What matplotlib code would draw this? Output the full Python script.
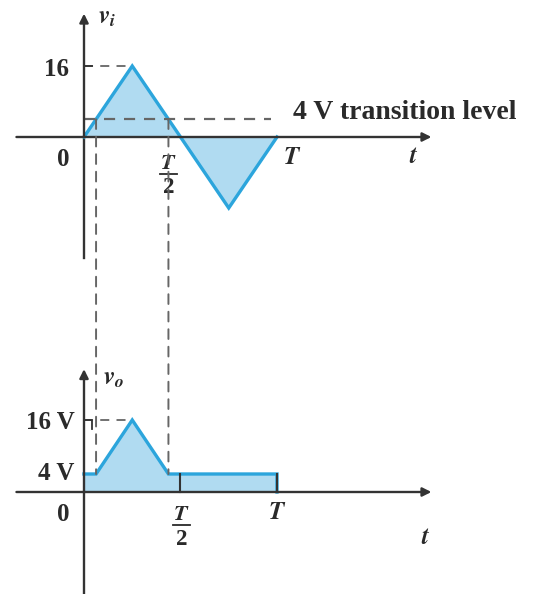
import matplotlib
matplotlib.use('Agg')
import matplotlib.pyplot as plt
from matplotlib.patches import ConnectionPatch

plt.rcParams['font.family'] = 'Liberation Serif'
plt.rcParams['font.weight'] = 'bold'
plt.rcParams['mathtext.fontset'] = 'stix'

# input triangle wave (t in units of T, volts)
t_in = [0, 0.25, 0.75, 1.0]
v_in = [0, 16, -16, 0]
# clipped output
t_out = [0, 0.0625, 0.25, 0.4375, 1.0, 1.0]
v_out = [4, 4, 16, 4, 4, 0]
v_peak = 16
v_level = 4
t_cross = [0.0625, 0.4375]

blue = '#2ca5dc'
fill = '#b0dbf1'
axc = '#333333'
dashc = '#666666'
txtc = '#2a2a2a'
fs = 18

W, H = 542, 594
fig = plt.figure(figsize=(W / 100, H / 100), dpi=100)

# pixel layout: x0 origin, px per T, y0 origin, px per volt
x0, pxT = 84, 193


def make_ax(ytop, ybot, y0, pxv):
    ax = fig.add_axes([0, 1 - ybot / H, 1, (ybot - ytop) / H])
    ax.set_xlim(-x0 / pxT, (W - x0) / pxT)
    ax.set_ylim((y0 - ybot) / pxv, (y0 - ytop) / pxv)
    ax.axis('off')
    return ax


def arrow(ax, x1, y1, x2, y2):
    ax.annotate('', xy=(x2, y2), xytext=(x1, y1),
                arrowprops=dict(arrowstyle='-|>', color=axc, lw=1.7,
                                mutation_scale=13, shrinkA=0, shrinkB=0))


def half_T(ax, tc, vt, vb, v2, w=0.042):
    # T over 2, drawn as stacked text with a bar
    ax.text(tc, vt, r'$T$', fontsize=16, ha='center', va='center', color=txtc)
    ax.plot([tc - w, tc + w], [vb, vb], color=txtc, lw=1.3)
    ax.text(tc, v2, '2', fontsize=16.5, ha='center', va='center', color=txtc)


top = make_ax(0, 290, 137, 71 / 16)
bot = make_ax(290, 594, 492, 4.5)

# ---- top: v_i
arrow(top, -0.35, 0, 1.80, 0)
top.plot([0, 0], [-27.3, 0], color=axc, lw=1.7)
arrow(top, 0, 0, 0, 27.8)
top.fill_between(t_in, v_in, 0, color=fill, lw=0)
top.plot(t_in, v_in, color=blue, lw=2.4, solid_joinstyle='miter')
top.plot([0, 0.25], [v_peak, v_peak], color=dashc, lw=1.3, ls=(0, (5, 4)))
top.plot([0, 0.04], [v_peak, v_peak], color=axc, lw=1.3)
top.plot([0, 0.97], [v_level, v_level], color=dashc, lw=1.6, ls=(0, (5, 4)))
top.text(0.07, 27.0, r'$v_i$', fontsize=fs, va='center', color=txtc)
top.text(-0.08, 15.3, '16', fontsize=fs, ha='right', va='center', color=txtc)
top.text(-0.11, -5.0, '0', fontsize=fs, ha='center', va='center', color=txtc)
half_T(top, 0.4375, -6.0, -8.4, -11.3)
top.text(1.08, -4.6, r'$T$', fontsize=fs, ha='center', va='center', color=txtc)
top.text(1.71, -4.3, r'$t$', fontsize=fs, ha='center', va='center', color=txtc)
top.text(1.085, 5.6, '4 V transition level', fontsize=20, ha='left',
         va='center', color=txtc)

# ---- bottom: v_o
arrow(bot, -0.35, 0, 1.80, 0)
bot.plot([0, 0], [-23, 0], color=axc, lw=1.7)
arrow(bot, 0, 0, 0, 27.3)
bot.fill_between(t_out, v_out, 0, color=fill, lw=0)
bot.plot(t_out, v_out, color=blue, lw=2.4, solid_joinstyle='miter')
bot.plot([1.0, 1.0], [0, v_level], color=axc, lw=1.5)
bot.plot([0.5, 0.5], [0, v_level], color=axc, lw=1.5)
bot.plot([0, 0.25], [v_peak, v_peak], color=dashc, lw=1.3, ls=(0, (5, 4)))
bot.plot([0, 0.04, 0.04], [v_peak, v_peak, v_peak - 2], color=axc, lw=1.3)
bot.text(0.10, 25.3, r'$v_o$', fontsize=fs, va='center', color=txtc)
bot.text(-0.05, 15.5, '16 V', fontsize=fs, ha='right', va='center', color=txtc)
bot.text(-0.05, 4.2, '4 V', fontsize=fs, ha='right', va='center', color=txtc)
bot.text(-0.11, -5.0, '0', fontsize=fs, ha='center', va='center', color=txtc)
half_T(bot, 0.505, -5.0, -7.4, -10.5)
bot.text(1.0, -4.6, r'$T$', fontsize=fs, ha='center', va='center', color=txtc)
bot.text(1.77, -10.0, r'$t$', fontsize=fs, ha='center', va='center', color=txtc)

# dashed projections from v_i crossing points down to v_o
for tc in t_cross:
    cp = ConnectionPatch(xyA=(tc, v_level), coordsA=top.transData,
                         xyB=(tc, v_level), coordsB=bot.transData,
                         color=dashc, lw=1.4, ls=(0, (5, 4)))
    fig.add_artist(cp)

fig.savefig('out.png', dpi=100)
